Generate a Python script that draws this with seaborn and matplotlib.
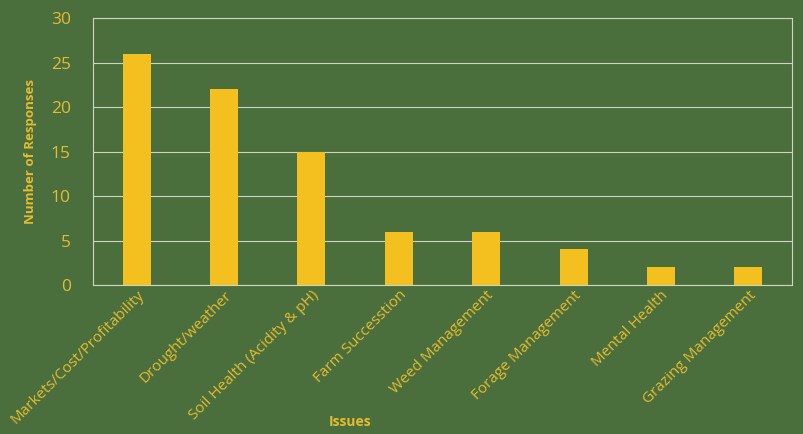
import matplotlib
matplotlib.use("Agg")
import matplotlib.pyplot as plt
import seaborn as sns
import pandas as pd

categories = ["Markets/Cost/Profitability", "Drought/weather", "Soil Health (Acidity & pH)",
              "Farm Successtion", "Weed Management", "Forage Management",
              "Mental Health", "Grazing Management"]
responses = [26, 22, 15, 6, 6, 4, 2, 2]
yticks = [0, 5, 10, 15, 20, 25, 30]

df = pd.DataFrame({"Issues": categories, "Responses": responses})

sns.set_theme(style="white")
plt.rcParams['font.family'] = ['Open Sans', 'DejaVu Sans']

bg = "#4b6e3d"
bar_c = "#f4c020"
txt = "#e4bc30"
line_c = "#cfd6c0"

fig = plt.figure(figsize=(8.04, 4.34), dpi=100, facecolor=bg)
ax = fig.add_axes([0.1157, 0.3433, 0.8693, 0.6152])
ax.set_facecolor(bg)

sns.barplot(data=df, x="Issues", y="Responses", color=bar_c, width=0.32,
            saturation=1, ax=ax, zorder=3, edgecolor="none", linewidth=0)

ax.set_ylim(0, 30)
ax.set_yticks(yticks)
ax.set_xlim(-0.5, len(categories) - 0.5)
ax.yaxis.grid(True, color=line_c, linewidth=0.8, zorder=0)
ax.set_axisbelow(True)
for s in ax.spines.values():
    s.set_color(line_c)
    s.set_linewidth(0.8)

ax.tick_params(axis='y', colors=txt, labelsize=12.5, length=0, pad=16)
ax.tick_params(axis='x', colors=txt, length=0, pad=2)
ax.set_xticks(range(len(categories)))
ax.set_xticklabels(categories, rotation=45, ha='right', rotation_mode='anchor',
                   fontsize=11, color=txt)
for lbl in ax.get_xticklabels():
    lbl.set_x(lbl.get_position()[0])

ax.set_ylabel("Number of Responses", color=txt, fontsize=9.5, fontweight='bold', labelpad=10)
ax.set_xlabel("Issues", color=txt, fontsize=10, fontweight='bold')
ax.xaxis.set_label_coords(0.368, -0.485)

fig.savefig("out.png", dpi=100, facecolor=bg)
